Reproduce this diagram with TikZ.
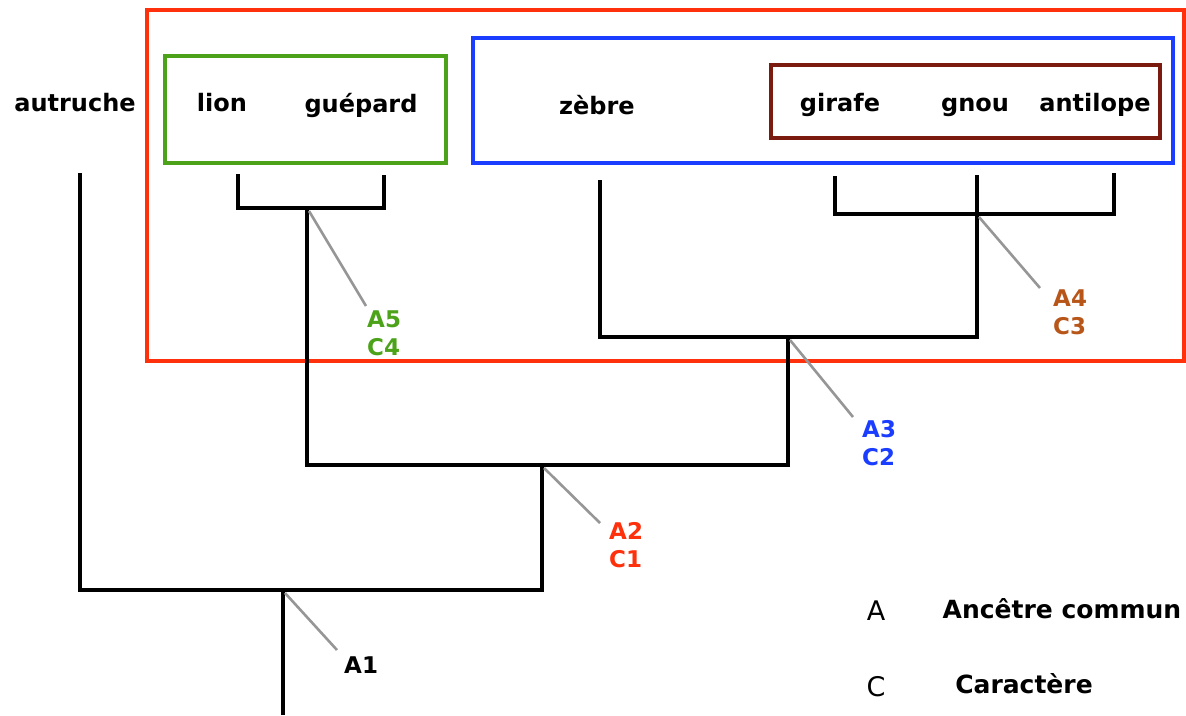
\documentclass[tikz,border=0pt]{standalone}
\usepackage{fontspec}
\setmainfont{DejaVu Sans}
\definecolor{cred}{RGB}{255,48,12}
\definecolor{cgreen}{RGB}{76,163,26}
\definecolor{cblue}{RGB}{26,61,255}
\definecolor{cbrown}{RGB}{123,26,14}
\definecolor{corange}{RGB}{184,86,26}
\definecolor{cgrey}{RGB}{150,150,150}
\begin{document}
\begin{tikzpicture}[x=1pt,y=-1pt,
  taxon/.style={font=\fontsize{24}{28}\selectfont\bfseries, inner sep=0pt, anchor=base},
  lab/.style={font=\fontsize{23}{28}\selectfont\bfseries, inner sep=0pt, anchor=north west, align=left},
  legendkey/.style={font=\fontsize{27}{30}\selectfont, inner sep=0pt, anchor=base},
  legendtext/.style={font=\fontsize{25}{28}\selectfont\bfseries, inner sep=0pt, anchor=base},
  box/.style={line width=4pt, inner sep=0pt, outer sep=0pt, anchor=north west},
  br/.style={line width=3.8pt, black, line join=miter},
  lead/.style={line width=2.6pt, cgrey}]
\useasboundingbox (0,0) rectangle (1186,715);
% boxes
\node[box, draw=cred, minimum width=1037pt, minimum height=351pt] (redbox) at (147,10) {};
\node[box, draw=cgreen, minimum width=281pt, minimum height=107pt] (greenbox) at (165,56) {};
\node[box, draw=cblue, minimum width=700pt, minimum height=125pt] (bluebox) at (473,38) {};
\node[box, draw=cbrown, minimum width=389pt, minimum height=73pt] (brownbox) at (771,65) {};
% taxa
\node[taxon] (autruche) at (75,111) {autruche};
\node[taxon] (lion) at (222,111) {lion};
\node[taxon] (guepard) at (361,112) {guépard};
\node[taxon] (zebre) at (597,114) {zèbre};
\node[taxon] (girafe) at (840,111) {girafe};
\node[taxon] (gnou) at (975,111) {gnou};
\node[taxon] (antilope) at (1095,111) {antilope};
% tree coordinates
\coordinate (autT) at (80,173);
\coordinate (autJ) at (80,590);
\coordinate (lionT) at (238,174);
\coordinate (lionJ) at (238,208);
\coordinate (gueT) at (384,175);
\coordinate (gueJ) at (384,208);
\coordinate (n5) at (307,208);
\coordinate (n5b) at (307,465);
\coordinate (zebT) at (600,180);
\coordinate (zebJ) at (600,337);
\coordinate (girT) at (835,176);
\coordinate (girJ) at (835,214);
\coordinate (gnouT) at (977,175);
\coordinate (n4) at (977,214);
\coordinate (n4b) at (977,337);
\coordinate (antT) at (1114,173);
\coordinate (antJ) at (1114,214);
\coordinate (n3) at (788,337);
\coordinate (n3b) at (788,465);
\coordinate (n2) at (542,465);
\coordinate (n2b) at (542,590);
\coordinate (n1) at (283,590);
\coordinate (root) at (283,715);
% tree
\draw[br] (lionT) -- (lionJ) -- (gueJ) -- (gueT);
\draw[br] (girT) -- (girJ) -- (antJ) -- (antT);
\draw[br] (gnouT) -- (n4b) -- (zebJ) -- (zebT);
\draw[br] (n3) -- (n3b) -- (n5b) -- (n5);
\draw[br] (autT) -- (autJ) -- (n2b) -- (n2);
\draw[br] (n1) -- (root);
% labels
\node[lab, text=cgreen] (l5) at (367,311) {A5\\C4};
\node[lab, text=corange] (l4) at (1053,290) {A4\\C3};
\node[lab, text=cblue] (l3) at (862,420) {A3\\C2};
\node[lab, text=cred] (l2) at (609,522) {A2\\C1};
\node[lab, text=black] (l1) at (344,657) {A1};
% leaders
\coordinate (e5) at (366,306);
\coordinate (e4) at (1040,288);
\coordinate (e3) at (853,417);
\coordinate (e2) at (600,523);
\coordinate (e1) at (337,650);
\draw[lead] ([shift={(2,3)}]n5) -- (e5);
\draw[lead] ([shift={(2,3)}]n4) -- (e4);
\draw[lead] ([shift={(2,3)}]n3) -- (e3);
\draw[lead] ([shift={(2,3)}]n2) -- (e2);
\draw[lead] ([shift={(2,3)}]n1) -- (e1);
% legend
\node[legendkey] (keyA) at (876,620) {A};
\node[legendtext] (txtA) at (1062,618) {Ancêtre commun};
\node[legendkey] (keyC) at (876,696) {C};
\node[legendtext] (txtC) at (1024,693) {Caractère};
\end{tikzpicture}
\end{document}
